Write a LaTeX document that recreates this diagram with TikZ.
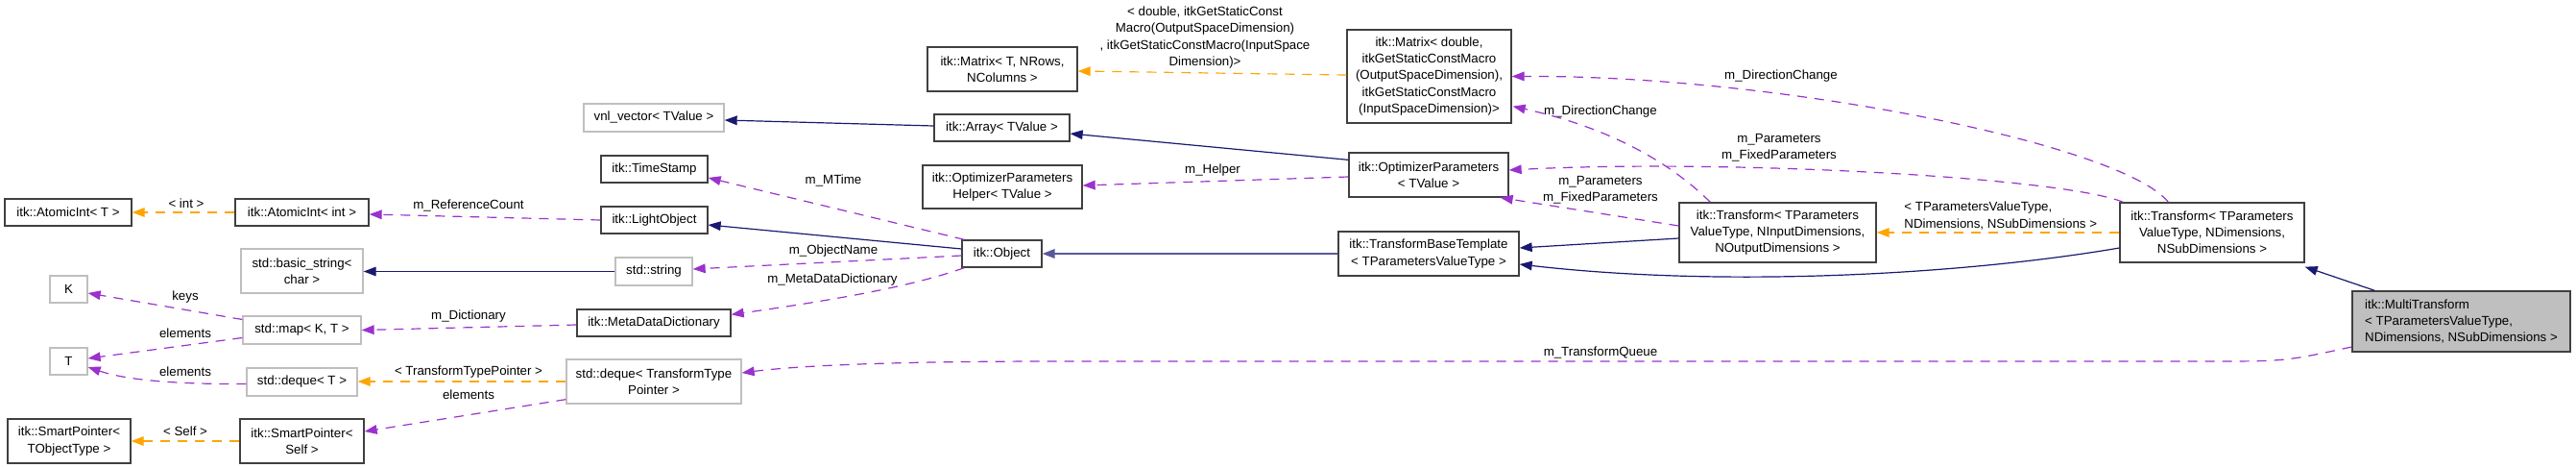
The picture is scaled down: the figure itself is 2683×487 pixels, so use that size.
\documentclass[tikz,border=0pt]{standalone}
\usepackage{fontspec}
\setmainfont{Liberation Sans}
\usetikzlibrary{arrows.meta,calc}
\definecolor{purp}{HTML}{9A32CD}
\definecolor{orng}{HTML}{FFA500}
\definecolor{navy}{HTML}{191970}
\definecolor{gbox}{HTML}{BFBFBF}
\definecolor{dbox}{HTML}{404040}
\begin{document}
\begin{tikzpicture}[x=0.5pt,y=-0.5pt,
  font=\fontsize{6.65}{8.6}\selectfont,
  cls/.style={draw=dbox, line width=0.65pt, inner sep=0pt, align=center, fill=white},
  ext/.style={draw=gbox, line width=0.65pt, inner sep=0pt, align=center, fill=white},
  root/.style={draw=dbox, line width=0.65pt, inner sep=0pt, align=left, fill=gbox},
  sz/.style 2 args={minimum width=#1, minimum height=#2},
  lbl/.style={inner sep=0pt, align=center},
  tip/.style={-{Triangle[length=6.5pt,width=4.8pt]}},
  usage/.style={draw=purp, line width=0.6pt, dash pattern=on 5pt off 4pt, tip},
  tmpl/.style={draw=orng, line width=0.6pt, dash pattern=on 5pt off 4pt, tip},
  inh/.style={draw=navy, line width=0.6pt, tip},
  inhl/.style={draw=navy!72, line width=0.85pt, tip}]
\useasboundingbox (0,0) rectangle (2683,487);
% nodes
\node[cls, sz={66pt}{14pt}] (atomicT) at (71,221) {itk::AtomicInt< T >};
\node[cls, sz={69.5pt}{14pt}] (atomicInt) at (314.5,221) {itk::AtomicInt< int >};
\node[cls, sz={64pt}{23pt}] (smartT) at (72,459) {itk::SmartPointer<\\TObjectType >};
\node[ext, sz={19.5pt}{14pt}] (K) at (71.5,301) {K};
\node[ext, sz={19.5pt}{14pt}] (T) at (71.5,376) {T};
\node[ext, sz={63.5pt}{23pt}] (basicstr) at (314.5,282) {std::basic\_string<\\char >};
\node[ext, sz={61.5pt}{14.5pt}] (map) at (314.5,343.5) {std::map< K, T >};
\node[ext, sz={57.5pt}{14.5pt}] (dequeT) at (314.5,397.5) {std::deque< T >};
\node[cls, sz={64.5pt}{23pt}] (smartSelf) at (314.5,459) {itk::SmartPointer<\\Self >};
\node[ext, sz={73pt}{14.5pt}] (vnl) at (681,122.5) {vnl\_vector< TValue >};
\node[cls, sz={55.5pt}{14pt}] (timestamp) at (681.5,176) {itk::TimeStamp};
\node[cls, sz={55.5pt}{14pt}] (lightobj) at (681.5,229) {itk::LightObject};
\node[ext, sz={40pt}{14.5pt}] (string) at (681,282.5) {std::string};
\node[cls, sz={80pt}{14pt}] (mdd) at (681,336) {itk::MetaDataDictionary};
\node[ext, sz={91pt}{23pt}] (dequeTTP) at (681,397) {std::deque< TransformType\\Pointer >};
\node[cls, sz={78pt}{23pt}] (matrixT) at (1044,72) {itk::Matrix< T, NRows,\\NColumns >};
\node[cls, sz={70.5pt}{14pt}] (array) at (1043.5,133) {itk::Array< TValue >};
\node[cls, sz={83pt}{22.5pt}] (ophelper) at (1044,194.5) {itk::OptimizerParameters\\Helper< TValue >};
\node[cls, sz={41.5pt}{14pt}] (object) at (1043.5,264) {itk::Object};
\node[cls, sz={85.5pt}{48.5pt}] (matrixD) at (1488.5,79.5) {itk::Matrix< double,\\itkGetStaticConstMacro\\(OutputSpaceDimension),\\itkGetStaticConstMacro\\(InputSpaceDimension)>};
\node[cls, sz={83pt}{23pt}] (optparams) at (1488,182) {itk::OptimizerParameters\\< TValue >};
\node[cls, sz={94pt}{23pt}] (tbt) at (1488,264) {itk::TransformBaseTemplate\\< TParametersValueType >};
\node[cls, sz={102.5pt}{31pt}] (transIn) at (1851.5,242) {itk::Transform< TParameters\\ValueType, NInputDimensions,\\NOutputDimensions >};
\node[cls, sz={96pt}{31pt}] (transND) at (2304,242) {itk::Transform< TParameters\\ValueType, NDimensions,\\NSubDimensions >};
\node[root, sz={113.5pt}{31.5pt}] (multi) at (2563.5,334.5) {itk::MultiTransform\\< TParametersValueType,\\ NDimensions, NSubDimensions >};
% labels
\node[lbl] (l1) at (194,212) {< int >};
\node[lbl] (l2) at (488,214) {m\_ReferenceCount};
\node[lbl] (l3) at (193,309) {keys};
\node[lbl] (l4) at (193,347) {elements};
\node[lbl] (l5) at (193,387) {elements};
\node[lbl] (l6) at (193,449) {< Self >};
\node[lbl] (l7) at (488,329) {m\_Dictionary};
\node[lbl] (l8) at (488,387) {< TransformTypePointer >};
\node[lbl] (l9) at (488,411) {elements};
\node[lbl] (l10) at (868,188) {m\_MTime};
\node[lbl] (l11) at (868,261) {m\_ObjectName};
\node[lbl] (l12) at (867,291) {m\_MetaDataDictionary};
\node[lbl] (l13) at (1263,177) {m\_Helper};
\node[lbl] (l14) at (1255,39) {< double, itkGetStaticConst\\Macro(OutputSpaceDimension)\\, itkGetStaticConstMacro(InputSpace\\Dimension)>};
\node[lbl] (l15) at (1855,79) {m\_DirectionChange};
\node[lbl] (l16) at (1667,116) {m\_DirectionChange};
\node[lbl] (l17) at (1853,154) {m\_Parameters\\m\_FixedParameters};
\node[lbl] (l18) at (1667,198) {m\_Parameters\\m\_FixedParameters};
\node[lbl, anchor=west, align=left] (l19) at (1983,224.5) {< TParametersValueType,\\NDimensions, NSubDimensions >};
\node[lbl] (l20) at (1667,367) {m\_TransformQueue};
% edges
\draw[tmpl] (atomicInt.west) -- (atomicT.east);
\draw[usage] (lightobj.west) -- ($(atomicInt.east)+(0,2)$);
\draw[inh] (string.west) -- (basicstr.east |- string.west);
\draw[usage] ($(map.west)+(0,-11)$) -- ($(K.east)+(0,4)$);
\draw[usage] ($(map.west)+(0,8)$) -- ($(T.east)+(0,-3)$);
\draw[usage] ($(dequeT.west)+(0,2)$) .. controls (180,400) and (130,395) .. ($(T.east)+(0,6)$);
\draw[tmpl] (dequeTTP.west) -- (dequeT.east |- dequeTTP.west);
\draw[usage] ($(dequeTTP.south west)+(0,-5)$) -- ($(smartSelf.east)+(0,-10)$);
\draw[tmpl] (smartSelf.west) -- (smartT.east);
\draw[usage] ($(mdd.west)+(0,2)$) -- (map.east);
\draw[inh] ($(array.west)+(0,-2)$) -- ($(vnl.east)+(0,2.5)$);
\draw[inh] ($(optparams.north west)+(0,8)$) -- ($(array.east)+(0,6)$);
\draw[usage] ($(optparams.west)+(0,2)$) -- ($(ophelper.east)+(0,-1.5)$);
\draw[usage] ($(object.north west)+(3,0)$) -- ($(timestamp.east)+(0,9)$);
\draw[inh] ($(object.west)+(0,-5)$) -- ($(lightobj.east)+(0,5)$);
\draw[usage] ($(object.west)+(0,2)$) -- ($(string.east)+(0,-2.5)$);
\draw[usage] ($(object.south west)+(3,0)$) .. controls (950,298) and (870,312) .. ($(mdd.north east)+(0,6)$);
\draw[inhl] (tbt.west) -- (object.east);
\draw[tmpl] ($(matrixD.west)+(0,-1.5)$) -- ($(matrixT.east)+(0,2)$);
\draw[usage] ($(transND.north west)+(51,0)$) .. controls (2210,150) and (1850,78) .. (matrixD.east);
\draw[usage] ($(transIn.north west)+(33,0)$) .. controls (1720,150) and (1640,125) .. ($(matrixD.south east)+(1,-18)$);
\draw[usage] ($(transND.north west)+(4,0)$) .. controls (2150,185) and (1800,165) .. ($(optparams.east)+(0,-5)$);
\draw[usage] ($(transIn.west)+(0,-7)$) -- ($(optparams.south east)+(-9,0)$);
\draw[inh] ($(transIn.west)+(0,6)$) -- ($(tbt.east)+(0,-6)$);
\draw[inh] ($(transND.west)+(0,16)$) .. controls (2050,285) and (1800,300) .. ($(tbt.east)+(0,11)$);
\draw[tmpl] (transND.west) -- (transIn.east);
\draw[inh] ($(multi.north west)+(24,0)$) -- ($(transND.south east)+(0,4)$);
\draw[usage] ($(multi.west)+(0,26.5)$) .. controls (2380,376) .. (2300,376) -- (1100,376) .. controls (900,376) and (820,382) .. ($(dequeTTP.east)+(0,-9)$);
\end{tikzpicture}
\end{document}
